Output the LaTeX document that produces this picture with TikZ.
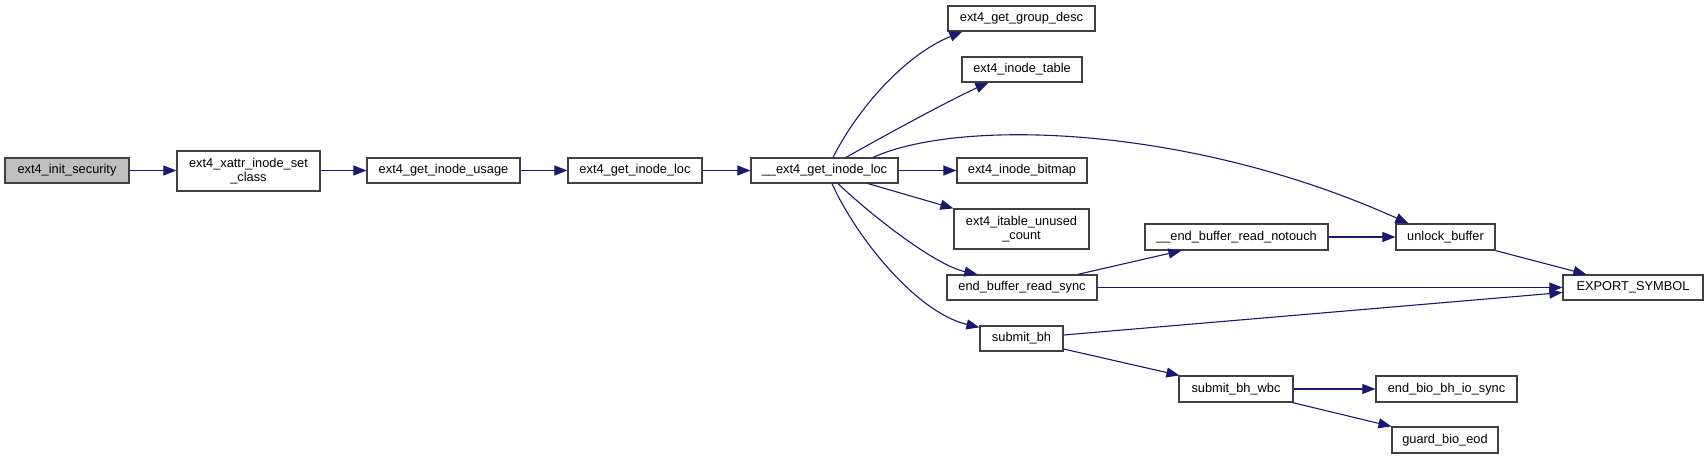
\documentclass[tikz,border=0pt]{standalone}
\usepackage{fontspec}
\setmainfont{Liberation Sans}
\usetikzlibrary{arrows.meta,calc}
\definecolor{edgeblue}{RGB}{25,25,112}
\definecolor{boxline}{RGB}{64,64,64}
\definecolor{rootfill}{RGB}{191,191,191}
\begin{document}
\begin{tikzpicture}[x=1pt,y=1pt,
  fn/.style={draw=boxline,line width=1.2pt,fill=white,inner sep=0pt,align=center,
    font=\fontsize{12.8}{14.3}\selectfont},
  call/.style={draw=edgeblue,line width=1.1pt,-{Triangle[length=13pt,width=10pt]}}]
\useasboundingbox[fill=white] (0,0) rectangle (1708,-459);
\newcommand{\fnbox}[6]{\node[fn,minimum width=#3,minimum height=#4,#6] (#1) at (#2) {#5};}
\fnbox{init}{67,-170.5}{124pt}{25pt}{ext4\_init\_security}{fill=rootfill}
\fnbox{xattr}{248.5,-171}{143pt}{40pt}{ext4\_xattr\_inode\_set\\\_class}{}
\fnbox{usage}{443.5,-170.5}{153pt}{25pt}{ext4\_get\_inode\_usage}{}
\fnbox{loc}{635,-170.5}{134pt}{25pt}{ext4\_get\_inode\_loc}{}
\fnbox{ploc}{824.5,-170.5}{147pt}{25pt}{\_\_ext4\_get\_inode\_loc}{}
\fnbox{gdesc}{1021.5,-18.5}{147pt}{25pt}{ext4\_get\_group\_desc}{}
\fnbox{itable}{1022,-69.5}{120pt}{25pt}{ext4\_inode\_table}{}
\fnbox{ibitmap}{1022,-170.5}{130pt}{25pt}{ext4\_inode\_bitmap}{}
\fnbox{iunused}{1021.5,-229}{135pt}{40pt}{ext4\_itable\_unused\\\_count}{}
\fnbox{ebrs}{1022,-287.5}{150pt}{25pt}{end\_buffer\_read\_sync}{}
\fnbox{sbh}{1021.5,-338.5}{83pt}{25pt}{submit\_bh}{}
\fnbox{notouch}{1236.5,-237}{183pt}{26pt}{\_\_end\_buffer\_read\_notouch}{}
\fnbox{unlock}{1445.5,-237}{99pt}{26pt}{unlock\_buffer}{}
\fnbox{export}{1633,-287.5}{140pt}{25pt}{EXPORT\_SYMBOL}{}
\fnbox{wbc}{1236,-389}{114pt}{26pt}{submit\_bh\_wbc}{}
\fnbox{endbio}{1446.5,-389}{141pt}{26pt}{end\_bio\_bh\_io\_sync}{}
\fnbox{guard}{1445,-440}{106pt}{26pt}{guard\_bio\_eod}{}
% straight calls
\draw[call] (init.east) -- (init.east -| xattr.west);
\draw[call] (xattr.east |- usage.west) -- (usage.west);
\draw[call] (usage.east) -- (loc.west);
\draw[call] (loc.east) -- (ploc.west);
\draw[call] (ploc.east) -- (ibitmap.west);
\draw[call] (ebrs.east) -- (export.west);
\draw[call] (notouch.east) -- (unlock.west);
\draw[call] (wbc.east) -- (endbio.west);
% curved calls from __ext4_get_inode_loc
\draw[call] ([xshift=8.5pt]ploc.north) .. controls (858,-108) and (905,-55) .. ([xshift=15pt]gdesc.south west);
\draw[call] ([xshift=21.5pt]ploc.north) .. controls (880,-138) and (950,-100) .. ([xshift=27pt]itable.south west);
\draw[call] ([xshift=48.5pt]ploc.north) .. controls (960,-118) and (1190,-125) .. ([xshift=13pt]unlock.north west);
\draw[call] ([xshift=43.5pt]ploc.south) -- (iunused.north west);
\draw[call] ([xshift=13.5pt]ploc.south) .. controls (872,-216) and (935,-265) .. ([xshift=31pt]ebrs.north west);
\draw[call] ([xshift=7.5pt]ploc.south) .. controls (855,-235) and (915,-312) .. ([yshift=-2pt]sbh.north west);
% other diagonal calls
\draw[call] ([xshift=-20pt]ebrs.north east) -- ([xshift=37pt]notouch.south west);
\draw[call] ([yshift=3.5pt]sbh.east) -- ([yshift=-5pt]export.west);
\draw[call] ([yshift=-10.5pt]sbh.east) -- ([xshift=1pt]wbc.north west);
\draw[call] (unlock.south east) -- ([xshift=24pt]export.north west);
\draw[call] ([xshift=-1pt]wbc.south east) -- (guard.north west);
\end{tikzpicture}
\end{document}
